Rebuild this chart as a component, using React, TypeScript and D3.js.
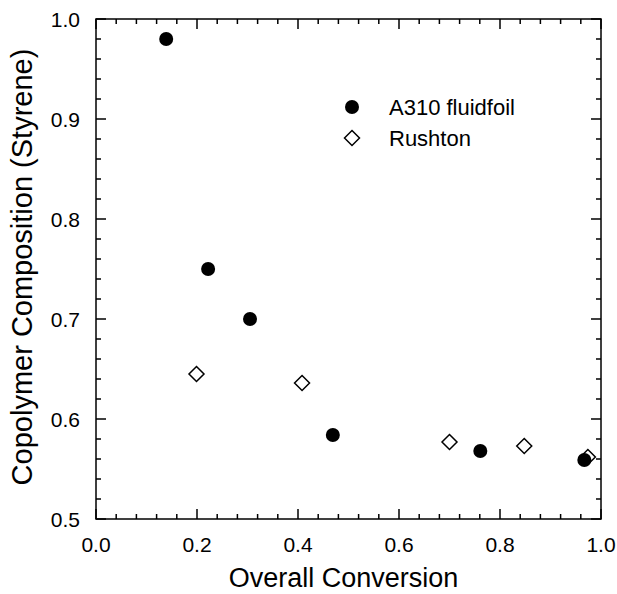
import React from "react";
import * as d3 from "d3";

const a310X = [0.139, 0.222, 0.305, 0.469, 0.761, 0.967];
const a310Y = [0.980, 0.750, 0.700, 0.584, 0.568, 0.559];
const rushtonX = [0.199, 0.408, 0.700, 0.848, 0.974];
const rushtonY = [0.645, 0.636, 0.577, 0.573, 0.562];
const xTicks = [0.0, 0.2, 0.4, 0.6, 0.8, 1.0];
const yTicks = [0.5, 0.6, 0.7, 0.8, 0.9, 1.0];
const legendLabels = ["A310 fluidfoil", "Rushton"];

const W = 617;
const H = 594;
const L = 96, R = 601, T = 19, B = 519;
const FONT = "Liberation Sans, Arial, Helvetica, sans-serif";

export default function App() {
  const x = d3.scaleLinear().domain([0, 1]).range([L, R]);
  const y = d3.scaleLinear().domain([0.5, 1]).range([B, T]);
  const xMinor = d3.range(0, 1.0001, 0.04).map((v) => +v.toFixed(2));
  const yMinor = d3.range(0.5, 1.0001, 0.02).map((v) => +v.toFixed(2));
  const isMajorX = (v: number) => Math.abs(v * 5 - Math.round(v * 5)) < 1e-6;
  const isMajorY = (v: number) => Math.abs(v * 10 - Math.round(v * 10)) < 1e-6;
  const diamond = (cx: number, cy: number, s: number) =>
    `M${cx},${cy - s}L${cx + s},${cy}L${cx},${cy + s}L${cx - s},${cy}Z`;

  return (
    <svg
      width={W}
      height={H}
      style={{ position: "fixed", left: 0, top: 0, background: "#fff" }}
      fontFamily={FONT}
    >
      <rect x={0} y={0} width={W} height={H} fill="#fff" />
      <rect x={L} y={T} width={R - L} height={B - T} fill="none" stroke="#000" strokeWidth={1.5} />
      {xMinor.map((v, i) => {
        const len = isMajorX(v) ? 10 : 5;
        return (
          <g key={"xt" + i} stroke="#000" strokeWidth={1.5}>
            <line x1={x(v)} x2={x(v)} y1={B} y2={B - len} />
            <line x1={x(v)} x2={x(v)} y1={T} y2={T + len} />
          </g>
        );
      })}
      {yMinor.map((v, i) => {
        const len = isMajorY(v) ? 10 : 5;
        return (
          <g key={"yt" + i} stroke="#000" strokeWidth={1.5}>
            <line x1={L} x2={L + len} y1={y(v)} y2={y(v)} />
            <line x1={R} x2={R - len} y1={y(v)} y2={y(v)} />
          </g>
        );
      })}
      {xTicks.map((v) => (
        <text key={"xl" + v} x={x(v)} y={552} textAnchor="middle" fontSize={21} fill="#000">
          {v.toFixed(1)}
        </text>
      ))}
      {yTicks.map((v) => (
        <text key={"yl" + v} x={80} y={y(v) + 7.5} textAnchor="end" fontSize={21} fill="#000">
          {v.toFixed(1)}
        </text>
      ))}
      <text x={(L + R) / 2 - 5} y={587} textAnchor="middle" fontSize={27} fill="#000">
        Overall Conversion
      </text>
      <text
        transform={`translate(32, ${(T + B) / 2 - 2}) rotate(-90)`}
        textAnchor="middle"
        fontSize={29}
        fill="#000"
      >
        Copolymer Composition (Styrene)
      </text>
      {rushtonX.map((v, i) => (
        <path
          key={"r" + i}
          d={diamond(x(v), y(rushtonY[i]), 7.5)}
          fill="#fff"
          stroke="#000"
          strokeWidth={1.5}
        />
      ))}
      {a310X.map((v, i) => (
        <circle key={"a" + i} cx={x(v)} cy={y(a310Y[i])} r={7} fill="#000" />
      ))}
      <circle cx={352} cy={107} r={7} fill="#000" />
      <path d={diamond(352, 138, 7.5)} fill="#fff" stroke="#000" strokeWidth={1.5} />
      <text x={389} y={115} fontSize={22} fill="#000">{legendLabels[0]}</text>
      <text x={389} y={146} fontSize={22} fill="#000">{legendLabels[1]}</text>
    </svg>
  );
}
